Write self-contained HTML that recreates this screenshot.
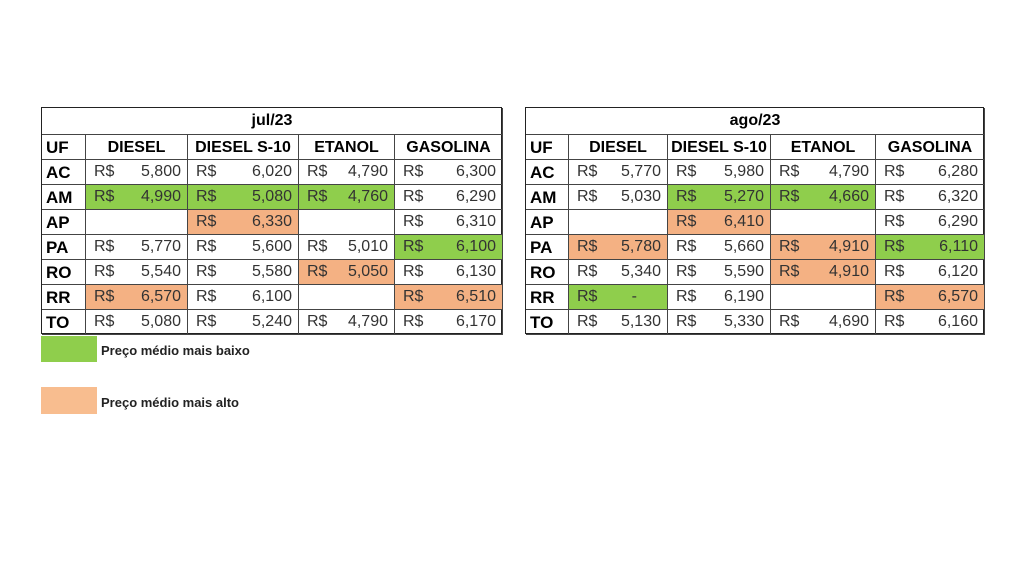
<!DOCTYPE html>
<html><head><meta charset="utf-8"><style>
body{margin:0;width:1024px;height:576px;background:#fff;position:relative;overflow:hidden;font-family:"Liberation Sans",sans-serif}
.t{position:absolute;border:1.5px solid #222;box-sizing:border-box}
.c{position:absolute;box-sizing:border-box;border-right:1px solid #444;border-bottom:1px solid #444;font-size:16px;color:#333}
.h{font-weight:bold;color:#000;text-align:center;line-height:25px}
.uf{font-weight:bold;color:#000;padding-left:4px;line-height:25px;font-size:17px}
.rs{position:absolute;left:8px;top:3px}
.v{position:absolute;right:6px;top:3px}
.g{background:#8fce4c}.o{background:#f4b183}
.leg{position:absolute;font-size:13px;font-weight:bold;color:#222}
</style></head><body>
<div id="root"></div>
<div style="position:absolute;left:41px;top:336px;width:56px;height:26px;background:#8fce4c"></div>
<div class="leg" style="left:101px;top:343px">Preço médio mais baixo</div>
<div style="position:absolute;left:41px;top:387px;width:56px;height:27px;background:#f8bd8f"></div>
<div class="leg" style="left:101px;top:395px">Preço médio mais alto</div>
<script>
const states=["AC","AM","AP","PA","RO","RR","TO"];
const fuels=["DIESEL","DIESEL S-10","ETANOL","GASOLINA"];
const julValues=[["5,800","6,020","4,790","6,300"],["4,990","5,080","4,760","6,290"],["","6,330","","6,310"],["5,770","5,600","5,010","6,100"],["5,540","5,580","5,050","6,130"],["6,570","6,100","","6,510"],["5,080","5,240","4,790","6,170"]];
const julColors=[["","","",""],["g","g","g",""],["","o","",""],["","","","g"],["","","o",""],["o","","","o"],["","","",""]];
const agoValues=[["5,770","5,980","4,790","6,280"],["5,030","5,270","4,660","6,320"],["","6,410","","6,290"],["5,780","5,660","4,910","6,110"],["5,340","5,590","4,910","6,120"],["-","6,190","","6,570"],["5,130","5,330","4,690","6,160"]];
const agoColors=[["","","",""],["","g","g",""],["","o","",""],["o","","o","g"],["","","o",""],["g","","","o"],["","","",""]];
const root=document.getElementById('root');
function table(title,vals,cols,xs,top,name){
  const L=xs[0],R=xs[xs.length-1];
  const t=document.createElement('div');t.className='t';
  
  
  t.style.left=L+'px';t.style.top=top+'px';t.style.width=(R-L)+'px';t.style.height='227px';
  root.appendChild(t);
  function cell(x1,y1,x2,y2,cls,html,nm){
    const d=document.createElement('div');d.className='c '+cls;
    
    
    d.style.left=(x1-L)+'px';d.style.top=(y1-top)+'px';d.style.width=(x2-x1)+'px';d.style.height=(y2-y1)+'px';
    d.innerHTML=html;t.appendChild(d);
  }
  cell(L,top,R,top+27,'h',title,'month-title');
  cell(L,top+27,xs[1],top+52,'uf','UF','uf-header');
  fuels.forEach((f,i)=>cell(xs[i+1],top+27,xs[i+2],top+52,'h',f,'fuel-header'));
  states.forEach((s,r)=>{
    const y=top+52+r*25;
    cell(L,y,xs[1],y+25,'uf',s,'state-label');
    fuels.forEach((f,i)=>{
      const v=vals[r][i];const has=v!==''||cols[r][i];
      const html=v!==''?'<span class="rs">R$</span><span class="v"'+(v==='-'?' style="right:30px"':'')+'>'+v+'</span>':'';
      cell(xs[i+1],y,xs[i+2],y+25,cols[r][i],html,'price-cell');
    });
  });
}
table('jul/23',julValues,julColors,[41,85,187,298,394,502],107,'table-jul23');
table('ago/23',agoValues,agoColors,[525,568,667,770,875,984],107,'table-ago23');
</script>
</body></html>
